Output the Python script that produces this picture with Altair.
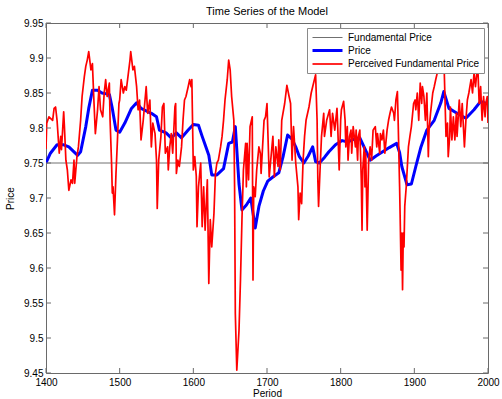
import altair as alt
import pandas as pd

# ---------------- data ----------------
series_names = ["Fundamental Price", "Price", "Perceived Fundamental Price"]
series_colors = ["#707070", "#0000ff", "#ff0000"]
series_widths = [1.0, 3.0, 1.7]

x_ticks = [1400, 1500, 1600, 1700, 1800, 1900, 2000]
y_ticks = [9.45, 9.5, 9.55, 9.6, 9.65, 9.7, 9.75, 9.8, 9.85, 9.9, 9.95]

fundamental_period = [1400, 2000]
fundamental_value = [9.75, 9.75]

price_period = [1400, 1406, 1415, 1424, 1431, 1438, 1443, 1447, 1454, 1458,
                1463, 1470, 1476, 1486, 1490, 1495, 1500, 1507, 1516, 1523,
                1529, 1543, 1550, 1554, 1563, 1570, 1577, 1584, 1593, 1600,
                1607, 1612, 1616, 1621, 1625, 1632, 1641, 1648, 1653, 1657,
                1662, 1666, 1672, 1678, 1684, 1689, 1695, 1701, 1708, 1716,
                1722, 1728, 1734, 1739, 1744, 1750, 1756, 1762, 1766, 1771,
                1778, 1784, 1793, 1802, 1810, 1818, 1826, 1833, 1840, 1848,
                1857, 1866, 1876, 1880, 1883, 1890, 1896, 1902, 1909, 1917,
                1927, 1936, 1940, 1947, 1958, 1970, 1981, 1990, 2000]
price_value = [9.750, 9.764, 9.776, 9.776, 9.773, 9.766, 9.761, 9.766, 9.802, 9.828,
               9.854, 9.854, 9.850, 9.848, 9.828, 9.797, 9.794, 9.807, 9.828, 9.836,
               9.828, 9.821, 9.816, 9.797, 9.793, 9.786, 9.793, 9.786, 9.797, 9.805,
               9.804, 9.788, 9.776, 9.761, 9.733, 9.733, 9.742, 9.778, 9.780, 9.802,
               9.720, 9.683, 9.690, 9.700, 9.657, 9.688, 9.710, 9.724, 9.730, 9.736,
               9.760, 9.790, 9.784, 9.773, 9.759, 9.750, 9.760, 9.773, 9.752, 9.750,
               9.758, 9.766, 9.776, 9.782, 9.780, 9.784, 9.786, 9.770, 9.754, 9.760,
               9.766, 9.772, 9.778, 9.765, 9.745, 9.719, 9.720, 9.745, 9.773, 9.797,
               9.811, 9.836, 9.852, 9.828, 9.821, 9.814, 9.826, 9.838, 9.834]

perceived_period = [
    1400, 1401, 1404, 1409, 1411, 1413, 1415, 1418, 1420, 1421,
    1424, 1425, 1427, 1429, 1431, 1434, 1436, 1438, 1439, 1442,
    1444, 1447, 1449, 1452, 1454, 1456, 1458, 1461, 1463, 1465,
    1467, 1470, 1472, 1474, 1477, 1479, 1481, 1483, 1486, 1487,
    1489, 1490, 1491, 1493, 1495, 1497, 1499, 1500, 1502, 1505,
    1507, 1509, 1514, 1515, 1518, 1520, 1523, 1525, 1527, 1529,
    1532, 1534, 1536, 1538, 1541, 1543, 1545, 1548, 1550, 1551,
    1553, 1556, 1558, 1560, 1562, 1565, 1566, 1568, 1570, 1572,
    1575, 1576, 1577, 1579, 1581, 1584, 1586, 1588, 1590, 1593,
    1595, 1597, 1598, 1600, 1602, 1604, 1605, 1607, 1610, 1612,
    1614, 1616, 1619, 1621, 1623, 1625, 1628, 1630, 1632, 1634,
    1637, 1639, 1641, 1643, 1646, 1648, 1650, 1652, 1655, 1656,
    1657, 1659, 1662, 1664, 1666, 1668, 1671, 1672, 1673, 1675,
    1677, 1680, 1681, 1682, 1684, 1686, 1689, 1691, 1692, 1694,
    1696, 1698, 1700, 1703, 1708, 1710, 1712, 1715, 1716, 1718,
    1720, 1724, 1727, 1730, 1732, 1734, 1736, 1739, 1742, 1743,
    1745, 1747, 1749, 1751, 1753, 1757, 1760, 1762, 1766, 1768,
    1769, 1770, 1772, 1774, 1777, 1778, 1781, 1785, 1787, 1789,
    1792, 1795, 1796, 1798, 1800, 1801, 1804, 1806, 1807, 1809,
    1810, 1812, 1814, 1815, 1817, 1820, 1821, 1823, 1824, 1826,
    1828, 1829, 1830, 1832, 1833, 1834, 1836, 1838, 1840, 1842,
    1844, 1847, 1849, 1850, 1853, 1854, 1856, 1858, 1860, 1863,
    1865, 1867, 1869, 1872, 1873, 1875, 1877, 1878, 1880, 1881,
    1882, 1883, 1884, 1885, 1886, 1887, 1889, 1891, 1892, 1894,
    1896, 1899, 1901, 1902, 1904, 1906, 1908, 1910, 1911, 1913,
    1915, 1917, 1919, 1920, 1922, 1925, 1927, 1929, 1931, 1934,
    1935, 1937, 1938, 1940, 1943, 1945, 1946, 1948, 1949, 1951,
    1953, 1955, 1957, 1958, 1961, 1963, 1965, 1968, 1970, 1972,
    1974, 1977, 1979, 1981, 1983, 1986, 1988, 1990, 1992, 1994,
    1996, 1997, 1999, 2000]
perceived_value = [
    9.770, 9.807, 9.816, 9.811, 9.828, 9.830, 9.811, 9.764, 9.788, 9.769,
    9.823, 9.802, 9.754, 9.740, 9.711, 9.726, 9.721, 9.754, 9.721, 9.759,
    9.773, 9.811, 9.845, 9.873, 9.888, 9.897, 9.909, 9.883, 9.892, 9.840,
    9.792, 9.826, 9.859, 9.826, 9.816, 9.850, 9.869, 9.845, 9.864, 9.811,
    9.750, 9.707, 9.716, 9.676, 9.735, 9.783, 9.835, 9.840, 9.869, 9.850,
    9.859, 9.854, 9.897, 9.909, 9.883, 9.888, 9.859, 9.826, 9.840, 9.783,
    9.811, 9.835, 9.859, 9.821, 9.840, 9.773, 9.807, 9.792, 9.754, 9.685,
    9.754, 9.788, 9.830, 9.835, 9.764, 9.773, 9.740, 9.773, 9.792, 9.764,
    9.830, 9.835, 9.735, 9.754, 9.745, 9.773, 9.811, 9.840, 9.845, 9.859,
    9.869, 9.859, 9.869, 9.740, 9.759, 9.731, 9.659, 9.716, 9.750, 9.659,
    9.716, 9.654, 9.726, 9.578, 9.669, 9.630, 9.678, 9.735, 9.750, 9.754,
    9.773, 9.788, 9.811, 9.840, 9.869, 9.897, 9.883, 9.845, 9.811, 9.716,
    9.535, 9.454, 9.511, 9.583, 9.669, 9.740, 9.778, 9.716, 9.778, 9.726,
    9.802, 9.816, 9.583, 9.716, 9.702, 9.740, 9.773, 9.764, 9.735, 9.773,
    9.811, 9.816, 9.835, 9.730, 9.788, 9.730, 9.773, 9.745, 9.783, 9.740,
    9.811, 9.835, 9.861, 9.845, 9.835, 9.754, 9.802, 9.750, 9.716, 9.669,
    9.707, 9.692, 9.754, 9.788, 9.811, 9.830, 9.850, 9.859, 9.876, 9.811,
    9.726, 9.688, 9.740, 9.788, 9.821, 9.788, 9.811, 9.826, 9.788, 9.821,
    9.797, 9.828, 9.802, 9.740, 9.811, 9.826, 9.838, 9.811, 9.773, 9.802,
    9.754, 9.788, 9.797, 9.764, 9.802, 9.773, 9.797, 9.754, 9.788, 9.797,
    9.726, 9.654, 9.740, 9.773, 9.716, 9.764, 9.654, 9.754, 9.773, 9.754,
    9.797, 9.802, 9.773, 9.792, 9.764, 9.792, 9.783, 9.797, 9.764, 9.797,
    9.811, 9.821, 9.830, 9.821, 9.811, 9.840, 9.852, 9.811, 9.716, 9.659,
    9.597, 9.650, 9.569, 9.650, 9.630, 9.688, 9.716, 9.754, 9.773, 9.788,
    9.802, 9.835, 9.840, 9.826, 9.850, 9.811, 9.864, 9.835, 9.859, 9.845,
    9.811, 9.850, 9.759, 9.797, 9.821, 9.850, 9.859, 9.869, 9.878, 9.892,
    9.907, 9.897, 9.883, 9.905, 9.788, 9.807, 9.759, 9.788, 9.830, 9.783,
    9.816, 9.783, 9.821, 9.788, 9.840, 9.802, 9.835, 9.773, 9.811, 9.840,
    9.850, 9.869, 9.850, 9.878, 9.859, 9.892, 9.835, 9.859, 9.811, 9.845,
    9.816, 9.835, 9.845, 9.807]

# ---------------- build table ----------------
rows = []
for p, v in zip(fundamental_period, fundamental_value):
    rows.append({"period": p, "value": v, "series": series_names[0]})
for p, v in zip(price_period, price_value):
    rows.append({"period": p, "value": v, "series": series_names[1]})
for p, v in zip(perceived_period, perceived_value):
    rows.append({"period": p, "value": v, "series": series_names[2]})
df = pd.DataFrame(rows)

W, H = 442, 350
FONT = "Liberation Sans"
FRAME = "#6a6a6a"
TICK_LEN = 5

xscale = alt.Scale(domain=[1400, 2000], nice=False, zero=False)
yscale = alt.Scale(domain=[9.45, 9.95], nice=False, zero=False)
cscale = alt.Scale(domain=series_names, range=series_colors)
wscale = alt.Scale(type="ordinal", domain=series_names, range=series_widths)

x_axis = alt.Axis(values=x_ticks, format="d", title="Period", grid=False,
                  domain=False, ticks=False, labelPadding=4, titlePadding=1,
                  labelFlush=False, labelOverlap=False, labelBound=False)
y_axis = alt.Axis(values=y_ticks, format="~g", title="Price", grid=False,
                  domain=False, ticks=False, labelPadding=3, titlePadding=8,
                  labelFlush=False, labelOverlap=False, labelBound=False)

X_ENC = alt.X("period:Q", scale=xscale, axis=x_axis)
Y_ENC = alt.Y("value:Q", scale=yscale, axis=y_axis)

legend = alt.Legend(
    title=None, orient="none", legendX=261, legendY=5,
    fillColor="white", strokeColor="#8a8a8a", padding=4,
    symbolType="M-1,0H5", symbolSize=100, labelFont=FONT, labelFontSize=10,
    labelColor="black", labelOffset=24, rowPadding=1, cornerRadius=0,
)


def series_layer(name):
    return (
        alt.Chart(df)
        .transform_filter(alt.datum.series == name)
        .mark_line(clip=True, strokeJoin="round")
        .encode(
            x=X_ENC, y=Y_ENC,
            color=alt.Color("series:N", scale=cscale, legend=legend),
            strokeWidth=alt.StrokeWidth("series:N", scale=wscale, legend=legend),
        )
    )


xt = pd.DataFrame({"period": x_ticks})
yt = pd.DataFrame({"value": y_ticks})

bottom_ticks = alt.Chart(xt).mark_rule(color=FRAME, strokeWidth=1).encode(
    x=X_ENC, y=alt.value(H), y2=alt.value(H - TICK_LEN))
top_ticks = alt.Chart(xt).mark_rule(color=FRAME, strokeWidth=1).encode(
    x=X_ENC, y=alt.value(0), y2=alt.value(TICK_LEN))
left_ticks = alt.Chart(yt).mark_rule(color=FRAME, strokeWidth=1).encode(
    y=Y_ENC, x=alt.value(0), x2=alt.value(TICK_LEN))
right_ticks = alt.Chart(yt).mark_rule(color=FRAME, strokeWidth=1).encode(
    y=Y_ENC, x=alt.value(W), x2=alt.value(W - TICK_LEN))

chart = (
    alt.layer(
        series_layer(series_names[0]),
        series_layer(series_names[1]),
        series_layer(series_names[2]),
        bottom_ticks, top_ticks, left_ticks, right_ticks,
    )
    .properties(
        width=W, height=H,
        title=alt.TitleParams("Time Series of the Model", font=FONT, fontSize=11,
                              fontWeight="normal", color="black", anchor="middle",
                              offset=1),
        autosize=alt.AutoSizeParams(type="none"),
        padding={"left": 46, "top": 23, "right": 14, "bottom": 26},
        background="white",
    )
    .configure_view(stroke=FRAME, strokeWidth=1)
    .configure_axis(labelFont=FONT, labelFontSize=10, labelColor="black",
                    titleFont=FONT, titleFontSize=10, titleFontWeight="normal",
                    titleColor="black")
)

chart.save("out.html", embed_options={"renderer": "svg", "actions": False})
